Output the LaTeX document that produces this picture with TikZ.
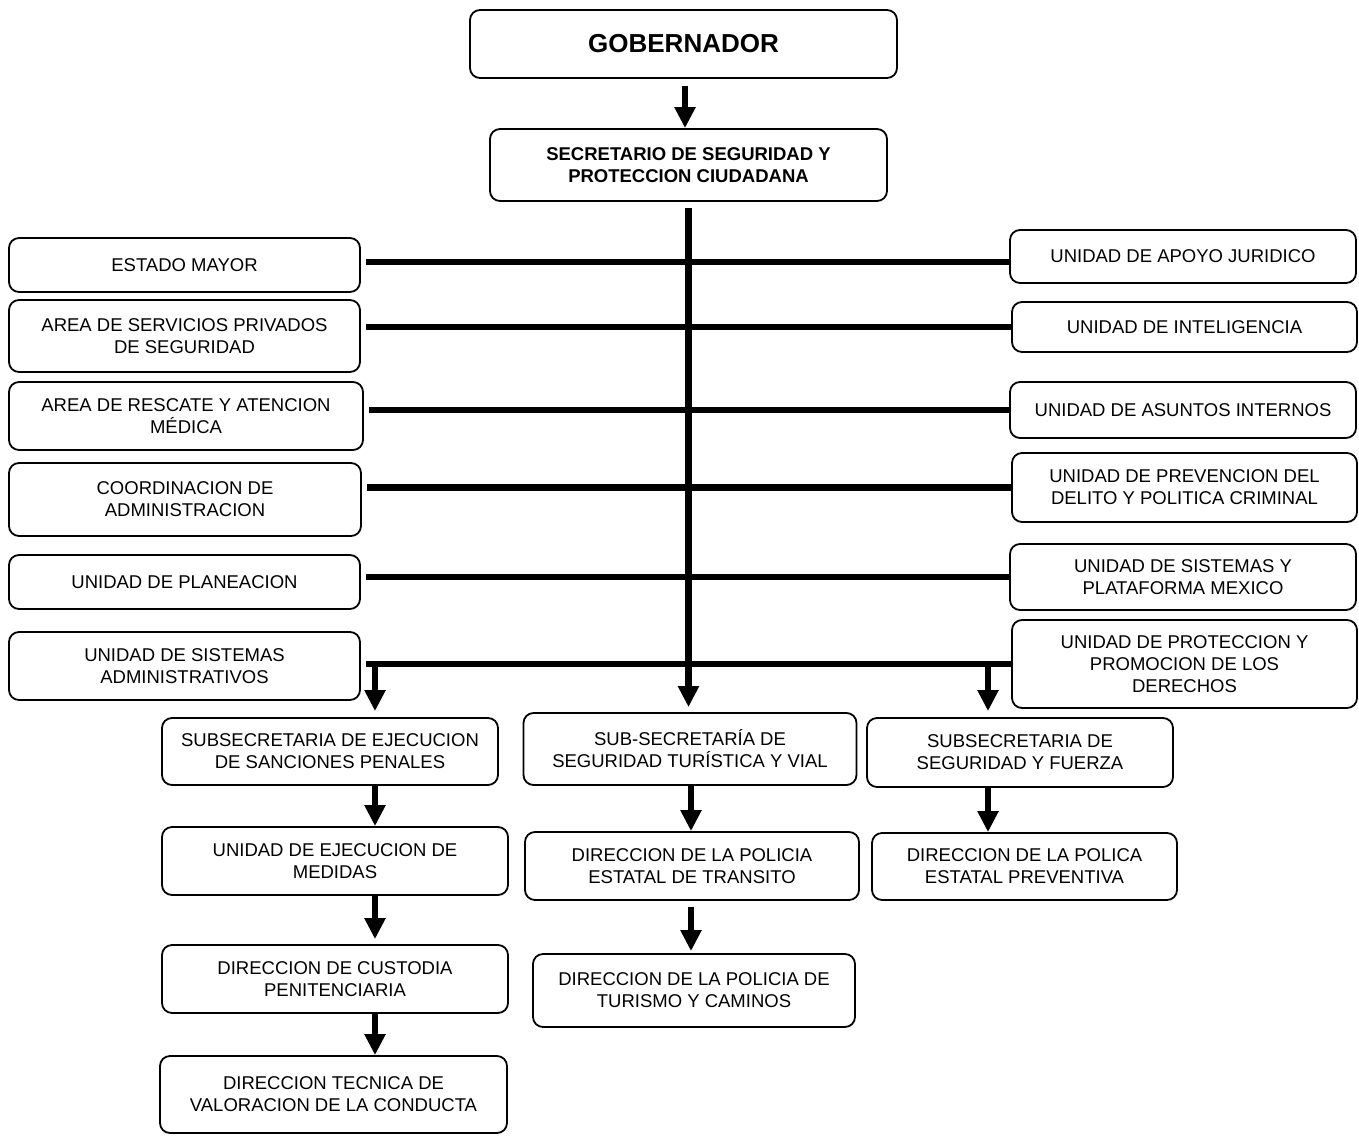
\documentclass[tikz,border=0pt]{standalone}
\usepackage{fontspec}
\setmainfont{Liberation Sans}
\usepackage{tikz}
\usetikzlibrary{arrows.meta, positioning}

\begin{document}
\begin{tikzpicture}[
    x=0.5pt, y=-0.5pt,
    orgbox/.style={rectangle, draw=black, line width=0.9pt, rounded corners=5pt, inner sep=0pt, align=center, font=\fontsize{9.25}{11}\selectfont},
    headbox/.style={orgbox, font=\fontsize{9.25}{11}\selectfont\bfseries},
    topbox/.style={orgbox, font=\fontsize{13}{15}\selectfont\bfseries},
    link/.style={line width=3.25pt, black},
    arrow/.style={-{Triangle[length=10.5pt, width=10pt]}, line width=3.25pt, black}
]
\useasboundingbox (0,0) rectangle (1359,1135);

% Top
\node[topbox, minimum width=213.5pt, minimum height=34pt] (gob) at (683.5,44) {GOBERNADOR};
\node[headbox, minimum width=198.5pt, minimum height=36pt] (secr) at (688.5,165) {SECRETARIO DE SEGURIDAD Y\\PROTECCION CIUDADANA};

% Left units
\node[orgbox, minimum width=175.5pt, minimum height=27pt] (estado) at (184.5,265) {ESTADO MAYOR};
\node[orgbox, minimum width=175.5pt, minimum height=36pt] (serv) at (184.5,336) {AREA DE SERVICIOS PRIVADOS\\DE SEGURIDAD};
\node[orgbox, minimum width=177pt, minimum height=34pt] (resc) at (186,416) {AREA DE RESCATE Y ATENCION\\MÉDICA};
\node[orgbox, minimum width=176pt, minimum height=36.5pt] (coord) at (185,499.5) {COORDINACION DE\\ADMINISTRACION};
\node[orgbox, minimum width=175.5pt, minimum height=27pt] (plan) at (184.5,582) {UNIDAD DE PLANEACION};
\node[orgbox, minimum width=175.5pt, minimum height=34pt] (sistadm) at (184.5,666) {UNIDAD DE SISTEMAS\\ADMINISTRATIVOS};

% Right units
\node[orgbox, minimum width=173pt, minimum height=26.5pt] (apoyo) at (1183,256.5) {UNIDAD DE APOYO JURIDICO};
\node[orgbox, minimum width=172.5pt, minimum height=25pt] (intel) at (1184.5,327) {UNIDAD DE INTELIGENCIA};
\node[orgbox, minimum width=173pt, minimum height=28pt] (asuntos) at (1183,410) {UNIDAD DE ASUNTOS INTERNOS};
\node[orgbox, minimum width=172.5pt, minimum height=34.5pt] (prev) at (1184.5,487.5) {UNIDAD DE PREVENCION DEL\\DELITO Y POLITICA CRIMINAL};
\node[orgbox, minimum width=173pt, minimum height=33pt] (sistplat) at (1183,577) {UNIDAD DE SISTEMAS Y\\PLATAFORMA MEXICO};
\node[orgbox, minimum width=172.5pt, minimum height=44pt] (protec) at (1184.5,664) {UNIDAD DE PROTECCION Y\\PROMOCION DE LOS\\DERECHOS};

% Subsecretarias
\node[orgbox, minimum width=168pt, minimum height=33.5pt] (sanc) at (330,751.5) {SUBSECRETARIA DE EJECUCION\\DE SANCIONES PENALES};
\node[orgbox, minimum width=166.5pt, minimum height=36pt] (tur) at (690,749) {SUB-SECRETARÍA DE\\SEGURIDAD TURÍSTICA Y VIAL};
\node[orgbox, minimum width=153pt, minimum height=34.5pt] (fza) at (1020,752.5) {SUBSECRETARIA DE\\SEGURIDAD Y FUERZA};

% Direcciones
\node[orgbox, minimum width=173pt, minimum height=34pt] (med) at (335,861) {UNIDAD DE EJECUCION DE\\MEDIDAS};
\node[orgbox, minimum width=173pt, minimum height=34pt] (cust) at (335,979) {DIRECCION DE CUSTODIA\\PENITENCIARIA};
\node[orgbox, minimum width=173.5pt, minimum height=38.5pt] (tec) at (333.5,1094.5) {DIRECCION TECNICA DE\\VALORACION DE LA CONDUCTA};
\node[orgbox, minimum width=167pt, minimum height=34pt] (trans) at (692,866) {DIRECCION DE LA POLICIA\\ESTATAL DE TRANSITO};
\node[orgbox, minimum width=161pt, minimum height=36.5pt] (cam) at (694,990.5) {DIRECCION DE LA POLICIA DE\\TURISMO Y CAMINOS};
\node[orgbox, minimum width=152.5pt, minimum height=33.5pt] (prevent) at (1024.5,866.5) {DIRECCION DE LA POLICA\\ESTATAL PREVENTIVA};

% Bus points
\coordinate (row1) at ([yshift=-2.75pt]apoyo.west);
\coordinate (busl) at (375,663);
\coordinate (busr) at (988,663);

% Arrows
\draw[arrow] ([xshift=0.75pt, yshift=-3.5pt]gob.south) -- ([xshift=0.75pt]gob.south |- secr.north);
\draw[arrow, shorten >=2.5pt] ([yshift=-3pt]secr.south) -- (secr.south |- tur.north);

\draw[link, shorten <=2.5pt] (estado.east |- row1) -- (row1);
\draw[link, shorten <=2.5pt] (serv.east |- intel.west) -- (intel.west);
\draw[link, shorten <=2.5pt] (resc.east |- asuntos.west) -- (asuntos.west);
\draw[link, shorten <=2.5pt] (coord.east |- prev.west) -- (prev.west);
\draw[link, shorten <=2.5pt] (plan.east |- sistplat.west) -- (sistplat.west);
\draw[link, shorten <=2.5pt] (sistadm.east |- protec.west) -- (protec.west);

\draw[arrow, shorten >=3pt] (busl) -- (busl |- sanc.north);
\draw[arrow, shorten >=3pt] (busr) -- (busr |- fza.north);

\draw[arrow] (sanc.south -| busl) -- (med.north -| busl);
\draw[arrow, shorten >=2.5pt] (med.south -| busl) -- (cust.north -| busl);
\draw[arrow] (cust.south -| busl) -- (tec.north -| busl);
\draw[arrow] ([xshift=0.5pt]tur.south) -- ([xshift=0.5pt]tur.south |- trans.north);
\draw[arrow, shorten <=3pt, shorten >=1pt] ([xshift=-0.5pt]trans.south) -- ([xshift=-0.5pt]trans.south |- cam.north);
\draw[arrow] (fza.south -| busr) -- (prevent.north -| busr);

\end{tikzpicture}
\end{document}
